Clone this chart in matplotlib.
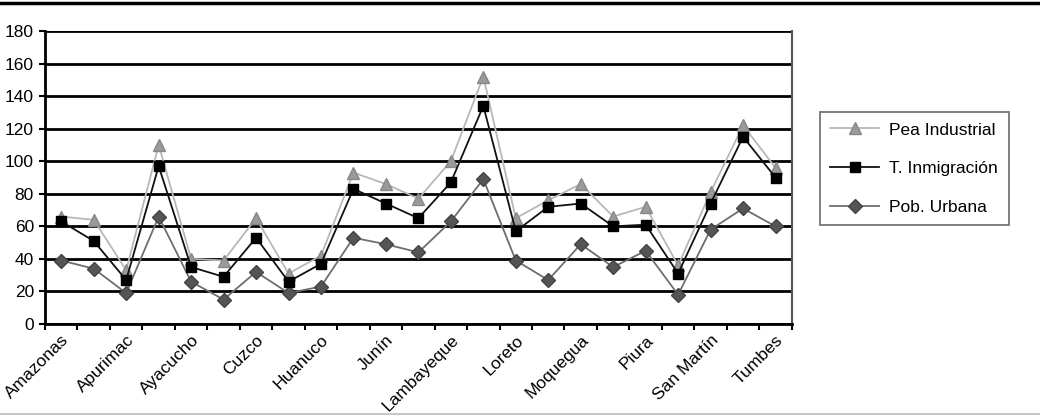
import matplotlib
matplotlib.use("Agg")
import matplotlib.pyplot as plt
from matplotlib.lines import Line2D
from matplotlib import font_manager

categories = ["Amazonas", "Ancash", "Apurimac", "Arequipa", "Ayacucho", "Cajamarca",
              "Cuzco", "Huancavelica", "Huanuco", "Ica", "Junín", "La Libertad",
              "Lambayeque", "Lima", "Loreto", "Madre de Dios", "Moquegua", "Pasco",
              "Piura", "Puno", "San Martín", "Tacna", "Tumbes"]
pea_industrial = [66, 64, 33, 110, 40, 39, 65, 31, 42, 93, 86, 77, 100, 152, 65, 76, 86, 66, 72, 36, 81, 122, 96]
t_inmigracion = [63, 51, 27, 97, 35, 29, 53, 26, 37, 83, 74, 65, 87, 134, 57, 72, 74, 60, 61, 31, 74, 115, 90]
pob_urbana = [39, 34, 19, 66, 26, 15, 32, 19, 23, 53, 49, 44, 63, 89, 39, 27, 49, 35, 45, 18, 58, 71, 60]
y_ticks = [0, 20, 40, 60, 80, 100, 120, 140, 160, 180]

names = [f.name for f in font_manager.fontManager.ttflist]
fam = "Liberation Sans Narrow" if "Liberation Sans Narrow" in names else "Liberation Sans"
plt.rcParams['font.family'] = [fam, 'DejaVu Sans']
FS = 12.5

fig = plt.figure(figsize=(10.4, 4.18), dpi=100)
ax = fig.add_axes([0.0433, 0.2249, 0.718, 0.7009])

x = list(range(len(categories)))
ax.plot(x, pea_industrial, color="#b8b8b8", lw=1.3, marker="^", ms=9,
        mfc="#9a9a9a", mec="#888888", label="Pea Industrial", zorder=3)
ax.plot(x, t_inmigracion, color="#111111", lw=1.3, marker="s", ms=7.5,
        mfc="#000000", mec="#000000", label="T. Inmigración", zorder=4)
ax.plot(x, pob_urbana, color="#6e6e6e", lw=1.3, marker="D", ms=7.5,
        mfc="#555555", mec="#444444", label="Pob. Urbana", zorder=2)

ax.set_xlim(-0.5, len(categories) - 0.5)
ax.set_ylim(0, 180)
ax.set_yticks(y_ticks)
ax.yaxis.grid(True, color="black", lw=2.0)
ax.set_axisbelow(True)

ax.set_xticks([i - 0.5 for i in range(len(categories) + 1)])
ax.set_xticklabels([])
ax.set_xticks(x[::2], minor=True)
ax.set_xticklabels(categories[::2], minor=True, rotation=45, ha="right",
                   rotation_mode="anchor", fontsize=FS)
ax.tick_params(axis="x", which="minor", length=0, pad=6)
ax.tick_params(axis="x", which="major", length=4, width=1.5, direction="out")
ax.tick_params(axis="y", length=4, width=1.5, labelsize=FS, pad=4)

for s in ["left", "bottom"]:
    ax.spines[s].set_linewidth(2)
    ax.spines[s].set_color("black")
ax.spines["top"].set_visible(False)
ax.spines["right"].set_color("#555555")
ax.spines["right"].set_linewidth(1.5)

handles = [Line2D([], [], color="#b8b8b8", lw=1.3, marker="^", ms=9, mfc="#9a9a9a", mec="#888888"),
           Line2D([], [], color="#111111", lw=1.3, marker="s", ms=7.5, mfc="#000000", mec="#000000"),
           Line2D([], [], color="#6e6e6e", lw=1.3, marker="D", ms=7.5, mfc="#555555", mec="#444444")]
leg = fig.legend(handles, ["Pea Industrial", "T. Inmigración", "Pob. Urbana"],
                 loc="upper left", bbox_to_anchor=(820 / 1040, 1 - 112 / 418),
                 frameon=True, fancybox=False, fontsize=FS, handlelength=2.8,
                 labelspacing=1.35, borderpad=0.6, handletextpad=0.6,
                 borderaxespad=0)
leg.get_frame().set_edgecolor("#444444")
leg.get_frame().set_linewidth(1.2)

fig.add_artist(Line2D([0, 1], [1 - 3 / 418, 1 - 3 / 418], color="black", lw=2.5,
                      transform=fig.transFigure))
fig.add_artist(Line2D([0, 1], [1 - 414 / 418, 1 - 414 / 418], color="#c8c8c8", lw=1.5,
                      transform=fig.transFigure))

fig.savefig("out.png", dpi=100)
